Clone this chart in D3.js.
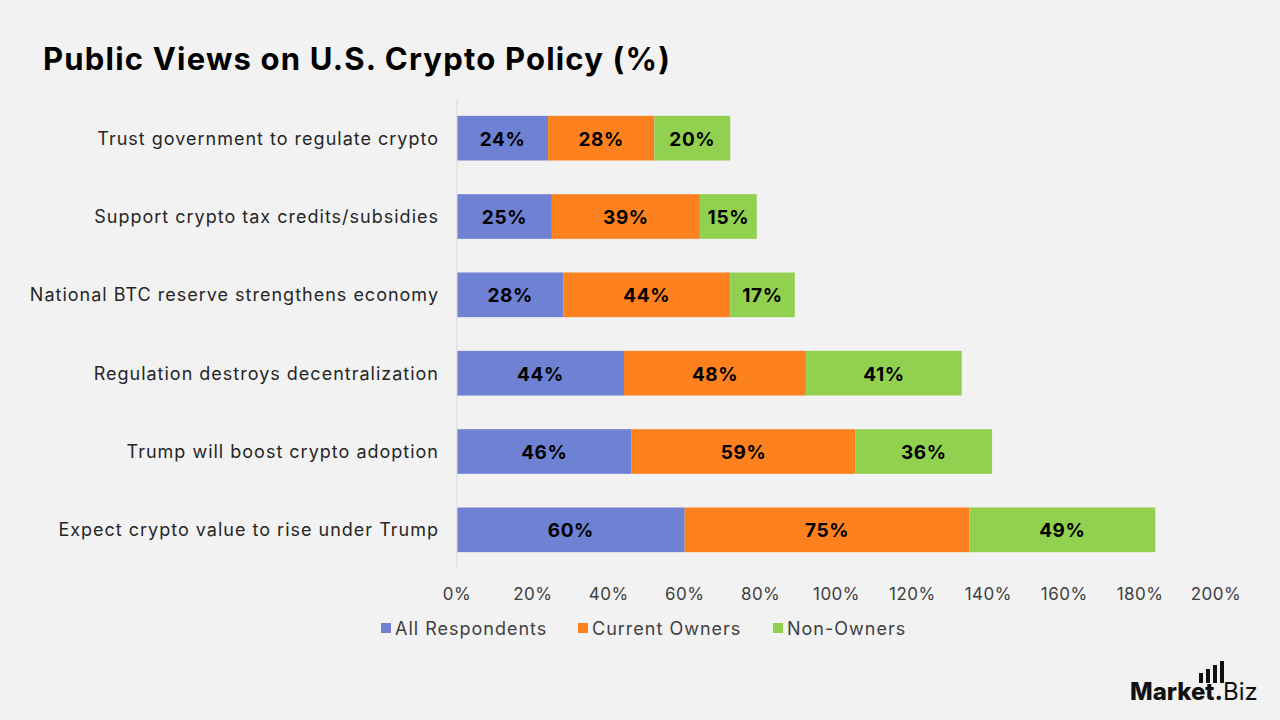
<!DOCTYPE html>
<html>
<head>
<meta charset="utf-8">
<script src="https://cdn.jsdelivr.net/npm/d3@7"></script>
<style>
  html, body { margin: 0; padding: 0; background: #f2f2f2; }
  #chart { width: 1280px; height: 720px; }
</style>
</head>
<body>
<div id="chart"></div>
<script>
(function () {
  "use strict";

  var FONT = "'Inter', 'Open Sans', sans-serif";

  // Data
  var categories = [
    "Trust government to regulate crypto",
    "Support crypto tax credits/subsidies",
    "National BTC reserve strengthens economy",
    "Regulation destroys decentralization",
    "Trump will boost crypto adoption",
    "Expect crypto value to rise under Trump"
  ];
  var seriesNames = ["All Respondents", "Current Owners", "Non-Owners"];
  var allRespondents = [24, 25, 28, 44, 46, 60];
  var currentOwners = [28, 39, 44, 48, 59, 75];
  var nonOwners = [20, 15, 17, 41, 36, 49];
  var xTicks = [0, 20, 40, 60, 80, 100, 120, 140, 160, 180, 200];
  var COLORS = ["#6f81d3", "#fd811e", "#92d050"];

  var W = 1280, H = 720;
  var M = { top: 99, left: 457, right: 64, bottom: 151 };
  var width = W - M.left - M.right;
  var height = H - M.top - M.bottom;

  var svg = d3.select("#chart").append("svg")
    .attr("width", W).attr("height", H)
    .style("background", "#f2f2f2");

  // Title
  svg.append("text").attr("x", 43).attr("y", 70)
    .attr("fill", "#000").attr("font-size", "31px").attr("font-weight", "700")
    .attr("letter-spacing", "1.2px")
    .attr("font-family", FONT).text("Public Views on U.S. Crypto Policy (%)");

  var x = d3.scaleLinear().domain([0, 200]).range([0, width]);
  var y = d3.scaleBand().domain(categories).range([0, height]).paddingInner(0.43).paddingOuter(0.215);

  var g = svg.append("g").attr("transform", "translate(" + M.left + "," + M.top + ")");

  // Stack
  var rows = categories.map(function (c, i) {
    return { cat: c, s0: allRespondents[i], s1: currentOwners[i], s2: nonOwners[i] };
  });
  var stack = d3.stack().keys(["s0", "s1", "s2"])(rows);

  stack.forEach(function (layer, li) {
    layer.forEach(function (d) {
      g.append("rect")
        .attr("x", x(d[0])).attr("y", y(d.data.cat))
        .attr("width", x(d[1]) - x(d[0])).attr("height", y.bandwidth())
        .attr("fill", COLORS[li]);
      g.append("text")
        .attr("x", (x(d[0]) + x(d[1])) / 2).attr("y", y(d.data.cat) + y.bandwidth() / 2 + 1)
        .attr("text-anchor", "middle").attr("dominant-baseline", "central")
        .attr("fill", "#000").attr("font-size", "19px").attr("font-weight", "700")
        .attr("letter-spacing", "0.6px")
        .attr("font-family", FONT).text((d[1] - d[0]) + "%");
    });
  });

  // Vertical axis line
  g.append("line").attr("x1", 0).attr("x2", 0).attr("y1", 0).attr("y2", height)
    .attr("stroke", "#d9d9d9").attr("stroke-width", 1);

  // Category labels
  categories.forEach(function (c) {
    g.append("text")
      .attr("x", -18).attr("y", y(c) + y.bandwidth() / 2)
      .attr("text-anchor", "end").attr("dominant-baseline", "central")
      .attr("fill", "#262626").attr("font-size", "18px").attr("letter-spacing", "1px")
      .attr("font-family", FONT).text(c);
  });

  // X tick labels
  xTicks.forEach(function (t) {
    g.append("text")
      .attr("x", x(t)).attr("y", height + 25)
      .attr("text-anchor", "middle").attr("dominant-baseline", "central")
      .attr("fill", "#404040").attr("font-size", "17px").attr("letter-spacing", "0.5px")
      .attr("font-family", FONT).text(t + "%");
  });

  // Legend
  var legX = [381, 578, 773];
  seriesNames.forEach(function (n, i) {
    var lg = svg.append("g").attr("transform", "translate(" + legX[i] + ",628)");
    lg.append("rect").attr("x", 0).attr("y", -5).attr("width", 10).attr("height", 10).attr("fill", COLORS[i]);
    lg.append("text").attr("x", 14).attr("y", 0).attr("dominant-baseline", "central")
      .attr("fill", "#404040").attr("font-size", "18px").attr("letter-spacing", "1px")
      .attr("font-family", FONT).text(n);
  });

  // Logo
  var logo = svg.append("g").attr("transform", "translate(1130,700)");
  logo.append("text").attr("x", 0).attr("y", 0)
    .attr("font-family", FONT).attr("font-size", "24px").attr("fill", "#111")
    .call(function (t) {
      t.append("tspan").attr("font-weight", "800").text("Market.");
      t.append("tspan").attr("font-weight", "400").text("Biz");
    });
  [[69, 10], [76, 14], [83, 18], [90, 22]].forEach(function (b) {
    logo.append("rect").attr("x", b[0]).attr("y", -17 - b[1]).attr("width", 4).attr("height", b[1]).attr("fill", "#111");
  });
})();
</script>
</body>
</html>
